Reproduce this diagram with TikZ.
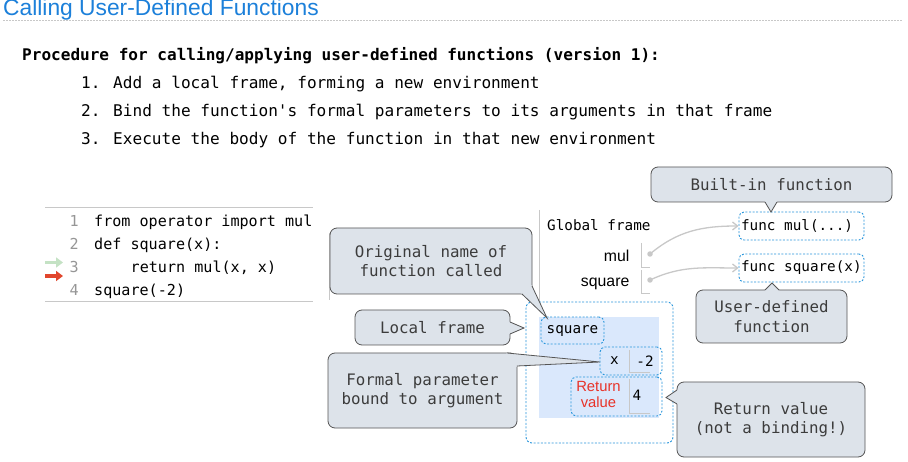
\documentclass[tikz,border=0pt]{standalone}
\usepackage{fontspec}
\setmainfont{Liberation Sans}
\newfontfamily\mono{DejaVu Sans Mono}
\usetikzlibrary{arrows.meta,calc}
\definecolor{titleblue}{RGB}{28,128,218}
\definecolor{callfill}{RGB}{221,227,234}
\definecolor{callline}{RGB}{85,85,85}
\definecolor{calltext}{RGB}{60,60,60}
\definecolor{dashblue}{RGB}{40,150,220}
\definecolor{framefill}{RGB}{218,232,252}
\definecolor{retred}{RGB}{232,50,40}
\definecolor{arrgray}{RGB}{200,200,200}
\definecolor{linegray}{RGB}{200,200,200}
\definecolor{numgray}{RGB}{150,150,150}
\definecolor{goarrow}{RGB}{196,226,196}
\definecolor{stoparrow}{RGB}{225,70,45}
\tikzset{
  callbox/.style={draw=callline, fill=callfill, rounded corners=7pt, line width=0.8pt,
    text=calltext, font=\mono\fontsize{15.8}{19.5}\selectfont, align=center, inner sep=0pt},
  dbox/.style={draw=dashblue, line width=0.9pt, dash pattern=on 2pt off 1.6pt, rounded corners=5pt, inner sep=0pt},
  codetxt/.style={font=\mono\fontsize{15.1}{18}\selectfont, anchor=base west, inner sep=0pt},
  numtxt/.style={font=\mono\fontsize{15.1}{18}\selectfont, anchor=base east, inner sep=0pt, text=numgray},
  proctxt/.style={font=\mono\fontsize{16.1}{18}\selectfont, anchor=base west, inner sep=0pt},
  vtxt/.style={font=\mono\fontsize{14.3}{17}\selectfont, inner sep=0pt},
  ltxt/.style={font=\fontsize{15.8}{17}\selectfont, anchor=base east, inner sep=0pt},
  grayline/.style={draw=linegray, line width=0.9pt},
  ptrfill/.style={fill=callfill},
  ptrline/.style={draw=callline, line width=0.8pt, line join=miter},
  refarrow/.style={draw=arrgray, line width=1.3pt, -{Straight Barb[length=5pt,width=8pt]}},
}
\newcommand{\callptr}[4]{% base1, tip, base2, inward shift
  \fill[ptrfill] (#1) -- (#2) -- (#3) -- ($(#3)+(#4)$) -- ($(#1)+(#4)$) -- cycle;
  \draw[ptrline] (#1) -- (#2) -- (#3);
}
\begin{document}
\begin{tikzpicture}[x=1pt,y=-1pt]
\useasboundingbox (0,0) rectangle (908,462);
\fill[white] (0,0) rectangle (908,462);

% title
\node[anchor=base west, inner sep=0pt, text=titleblue, font=\fontsize{22.8}{26}\selectfont] (title) at (3,16) {Calling User-Defined Functions};
\draw[linegray, line width=0.6pt, dash pattern=on 1.5pt off 1.5pt] (3,20.5) -- (903,20.5);

% procedure
\node[proctxt, font=\mono\bfseries\fontsize{16.05}{18}\selectfont] (proc) at (22,60.5) {Procedure for calling/applying user-defined functions (version 1):};
\node[proctxt] (k1) at (81,88.5) {1.};
\node[proctxt] (s1) at (113,88.5) {Add a local frame, forming a new environment};
\node[proctxt] (k2) at (81,116.5) {2.};
\node[proctxt] (s2) at (113,116.5) {Bind the function's formal parameters to its arguments in that frame};
\node[proctxt] (k3) at (81,144.5) {3.};
\node[proctxt] (s3) at (113,144.5) {Execute the body of the function in that new environment};

% code
\draw[grayline, line width=0.7pt] (45,207) -- (313,207);
\draw[grayline, line width=0.7pt] (45,301) -- (313,301);
\draw[grayline, line width=0.7pt] (329,233) -- (329,300);
\node[numtxt] (n1) at (79,226.5) {1};
\node[numtxt] (n2) at (79,249.5) {2};
\node[numtxt] (n3) at (79,272.5) {3};
\node[numtxt] (n4) at (79,295.5) {4};
\node[codetxt] (c1) at (94,226.5) {from operator import mul};
\node[codetxt] (c2) at (94,249.5) {def square(x):};
\node[codetxt] (c3) at (130.5,272.5) {return mul(x, x)};
\node[codetxt] (c4) at (94,295.5) {square(-2)};
\coordinate (ga0) at (45,262.5);
\coordinate (ga1) at (63,262.5);
\coordinate (ra0) at (45,276);
\coordinate (ra1) at (63,276);
\draw[goarrow, line width=3.2pt, -{Triangle[length=7pt,width=10pt]}] (ga0) -- (ga1);
\draw[stoparrow, line width=3.2pt, -{Triangle[length=7pt,width=10pt]}] (ra0) -- (ra1);

% global frame
\draw[grayline, line width=0.7pt] (539,210) -- (539,302);
\node[anchor=base west, inner sep=0pt, font=\mono\fontsize{14.3}{17}\selectfont] (gf) at (547,231) {Global frame};
\node[ltxt] (lmul) at (629.5,262) {mul};
\node[ltxt] (lsq) at (629.5,287) {square};
\draw[grayline] (641,243) -- (641,267) -- (650,267);
\draw[grayline] (641,270) -- (641,293) -- (650,293);
\node[circle, fill=arrgray, inner sep=0pt, minimum size=5.5pt] (dmul) at (650,254) {};
\node[circle, fill=arrgray, inner sep=0pt, minimum size=5.5pt] (dsq) at (650,280) {};
\node[dbox, minimum width=125pt, minimum height=28pt] (funcmul) at (801.5,226) {};
\node[vtxt, anchor=west] (tmul) at (funcmul.west) {\,func mul(...)};
\node[dbox, minimum width=125pt, minimum height=28pt] (funcsq) at (801.5,268) {};
\node[vtxt, anchor=west] (tsq) at (funcsq.west) {\,func square(x)};
\draw[refarrow] (dmul.center) to[out=40,in=180] (funcmul.west);
\draw[refarrow] (dsq.center) to[out=25,in=180] (funcsq.west);

% local frame
\node[dbox, minimum width=147pt, minimum height=141pt, rounded corners=6pt] (lframe) at (599.5,372.5) {};
\fill[framefill] (539,317) rectangle (659,418);
\node[dbox, minimum width=63pt, minimum height=27pt] (sqname) at (572.5,330.5) {};
\node[vtxt] (tsqn) at (sqname.center) {square};
\node[dbox, minimum width=62pt, minimum height=28pt] (xbind) at (631,361) {};
\node[vtxt] (tx) at (614.5,361) {x};
\node[vtxt] (tm2) at (645,361) {-2};
\draw[grayline] (629,350) -- (629,372) -- (650,372);
\node[dbox, minimum width=91pt, minimum height=39pt] (rbind) at (616.5,396.5) {};
\node[inner sep=0pt, align=center, text=retred, font=\fontsize{14.8}{16}\selectfont] (tret) at (598.5,394) {Return\\value};
\node[vtxt] (t4) at (637,395) {4};
\draw[grayline] (629,379) -- (629,413) -- (650,413);

% callouts
\node[callbox, minimum width=241pt, minimum height=35pt] (cbuilt) at (771.5,184.5) {Built-in function};
\callptr{765,202}{771,212}{777,202}{0,-3}
\node[callbox, minimum width=151pt, minimum height=53pt] (cuser) at (771.5,316.5) {User-defined\\function};
\callptr{765,290}{772,283}{779,290}{0,3}
\node[callbox, minimum width=202pt, minimum height=66pt] (corig) at (431,261) {Original name of\\function called};
\callptr{522,294}{547,318}{532,286}{-3,-3}
\node[callbox, minimum width=155pt, minimum height=35pt] (clocal) at (432.5,327.5) {Local frame};
\callptr{510,322}{524,328}{510,334}{-3,0}
\node[callbox, minimum width=189pt, minimum height=75pt] (cformal) at (422.5,390.5) {Formal parameter\\bound to argument};
\callptr{507,353}{600,362}{517,366}{-3,3}
\node[callbox, minimum width=188pt, minimum height=75pt] (cret) at (771,419.5) {Return value\\(not a binding!)};
\callptr{677,390}{666,397.5}{677,404}{3,0}
\end{tikzpicture}
\end{document}
